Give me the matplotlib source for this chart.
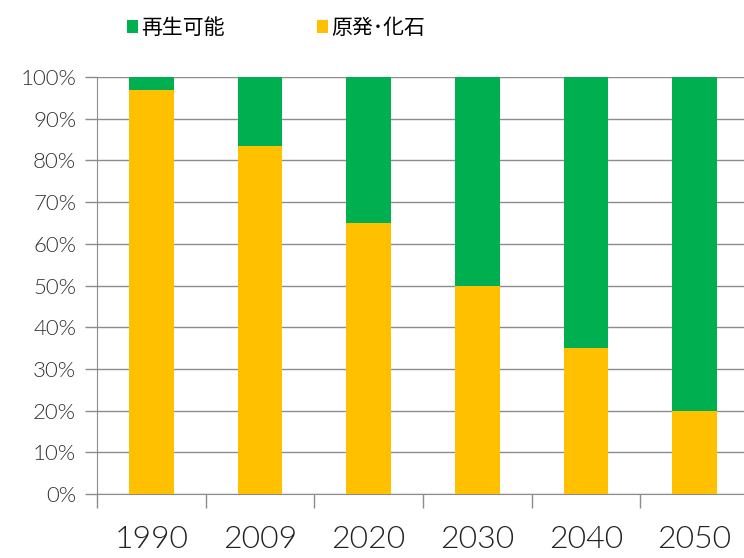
import matplotlib.pyplot as plt
from matplotlib.patches import Patch
from matplotlib.ticker import FixedLocator, PercentFormatter

years = ["1990", "2009", "2020", "2030", "2040", "2050"]
fossil = [97, 83.5, 65, 50, 35, 20]          # 原発・化石 share (%)
renewable = [100 - v for v in fossil]         # 再生可能 share (%)

GREEN = "#00B050"
YELLOW = "#FFC000"
GRID = "#8c8c8c"
TEXT = "#333333"

fig = plt.figure(figsize=(7.44, 5.58), dpi=100)
ax = fig.add_axes([97 / 744, 1 - 494 / 558, 652 / 744, 417 / 558])

x = range(len(years))
ax.bar(x, fossil, width=0.41, color=YELLOW, zorder=3)
ax.bar(x, renewable, width=0.41, bottom=fossil, color=GREEN, zorder=3)

ax.set_xlim(-0.5, len(years) - 0.5)
ax.set_ylim(0, 100)
ax.set_yticks(range(0, 101, 10))
ax.yaxis.set_major_formatter(PercentFormatter(decimals=0))
ax.grid(axis="y", color=GRID, linewidth=1.0, zorder=0)

# category labels centred under bars, tick marks on the category boundaries
ax.set_xticks(list(x))
ax.set_xticklabels(years)
ax.tick_params(axis="x", length=0, pad=22, labelsize=23, labelcolor="#222222")
ax.xaxis.set_minor_locator(FixedLocator([i - 0.5 for i in range(len(years) + 1)]))
ax.tick_params(axis="x", which="minor", length=10, color=GRID, width=1.0)
ax.tick_params(axis="y", length=9, color=GRID, width=1.0, labelsize=16,
               labelcolor=TEXT, pad=6)

for lab in ax.get_xticklabels() + ax.get_yticklabels():
    lab.set_fontfamily(["Lato", "DejaVu Sans"])
    lab.set_fontweight(300)

for side in ("top", "right"):
    ax.spines[side].set_visible(False)
ax.spines["left"].set_color(GRID)
ax.spines["bottom"].set_color(GRID)

handles = [Patch(facecolor=GREEN, label="再生可能"),
           Patch(facecolor=YELLOW, label="原発･化石")]
fig.legend(handles=handles, ncol=2, loc="upper left",
           bbox_to_anchor=(108 / 744, 1.004), frameon=False,
           handlelength=0.55, handleheight=0.6, handletextpad=0.15,
           columnspacing=4.4,
           prop={"family": ["Noto Sans CJK JP", "DejaVu Sans"], "size": 15})

fig.savefig("out.png", dpi=100)
